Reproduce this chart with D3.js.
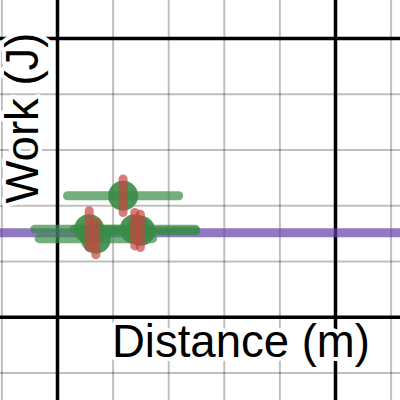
<!DOCTYPE html>
<html>
<head>
<meta charset="utf-8">
<script src="https://cdn.jsdelivr.net/npm/d3@7"></script>
<style>
  html, body { margin: 0; padding: 0; background: #fff; }
  svg { display: block; }
  text { font-family: Arial, "Liberation Sans", sans-serif; }
</style>
</head>
<body>
<script>
// ---- data (graph units: one grid cell = 1) ----
const pointX   = [1.18, 0.57, 0.69, 1.39, 1.49];
const pointY   = [2.18, 1.58, 1.41, 1.58, 1.55];
const xErr     = [1.00, 0.98, 1.02, 1.09, 1.00];
const yErr     = [0.30, 0.33, 0.29, 0.30, 0.30];
const lineY    = [1.515];
const gridX    = [-1, 0, 1, 2, 3, 4, 5, 6];
const gridY    = [-1, 0, 1, 2, 3, 4, 5, 6];
const majorX   = [0, 5];
const majorY   = [0, 5];
const xLabel   = "Distance (m)";
const yLabel   = "Work (J)";

const W = 400, H = 400;
const svg = d3.select("body").append("svg").attr("width", W).attr("height", H);

const x = d3.scaleLinear().domain([0, 5]).range([57.5, 335.5]);
const y = d3.scaleLinear().domain([0, 5]).range([317.3, 38.5]);

// minor grid
svg.append("g").selectAll("line").data(gridX).join("line")
  .attr("x1", d => x(d)).attr("x2", d => x(d)).attr("y1", 0).attr("y2", H)
  .attr("stroke", "#000").attr("stroke-opacity", 0.25).attr("stroke-width", 2);
svg.append("g").selectAll("line").data(gridY).join("line")
  .attr("y1", d => y(d)).attr("y2", d => y(d)).attr("x1", 0).attr("x2", W)
  .attr("stroke", "#000").attr("stroke-opacity", 0.25).attr("stroke-width", 2);

// major (black) lines
svg.append("g").selectAll("line").data(majorX).join("line")
  .attr("x1", d => x(d)).attr("x2", d => x(d)).attr("y1", 0).attr("y2", H)
  .attr("stroke", "#000").attr("stroke-width", 3.5);
svg.append("g").selectAll("line").data(majorY).join("line")
  .attr("y1", d => y(d)).attr("y2", d => y(d)).attr("x1", 0).attr("x2", W)
  .attr("stroke", "#000").attr("stroke-width", 3.5);

// purple horizontal line
svg.append("g").selectAll("line").data(lineY).join("line")
  .attr("x1", 0).attr("x2", W).attr("y1", d => y(d)).attr("y2", d => y(d))
  .attr("stroke", "#6042a6").attr("stroke-opacity", 0.7).attr("stroke-width", 9);

const pts = pointX.map((v, i) => ({x: v, y: pointY[i], ex: xErr[i], ey: yErr[i]}));

// green horizontal error bars
svg.append("g").selectAll("line").data(pts).join("line")
  .attr("x1", d => x(d.x - d.ex)).attr("x2", d => x(d.x + d.ex))
  .attr("y1", d => y(d.y)).attr("y2", d => y(d.y))
  .attr("stroke", "#388c46").attr("stroke-opacity", 0.7)
  .attr("stroke-width", 9).attr("stroke-linecap", "round");

// points
svg.append("g").selectAll("circle").data(pts).join("circle")
  .attr("cx", d => x(d.x)).attr("cy", d => y(d.y)).attr("r", 15)
  .attr("fill", "#388c46").attr("fill-opacity", 0.9);

// red vertical error bars
svg.append("g").selectAll("line").data(pts).join("line")
  .attr("x1", d => x(d.x)).attr("x2", d => x(d.x))
  .attr("y1", d => y(d.y - d.ey)).attr("y2", d => y(d.y + d.ey))
  .attr("stroke", "#c74440").attr("stroke-opacity", 0.7)
  .attr("stroke-width", 9).attr("stroke-linecap", "round");

// labels with white halo
function label(sel) {
  return sel.attr("font-size", 45.5).attr("fill", "#000")
    .attr("stroke", "#fff").attr("stroke-width", 8)
    .attr("stroke-linejoin", "round").attr("paint-order", "stroke");
}
label(svg.append("text").attr("x", 112).attr("y", 357).text(xLabel));
label(svg.append("text")
  .attr("transform", "translate(38,118) rotate(-90)")
  .attr("text-anchor", "middle").text(yLabel));
</script>
</body>
</html>
